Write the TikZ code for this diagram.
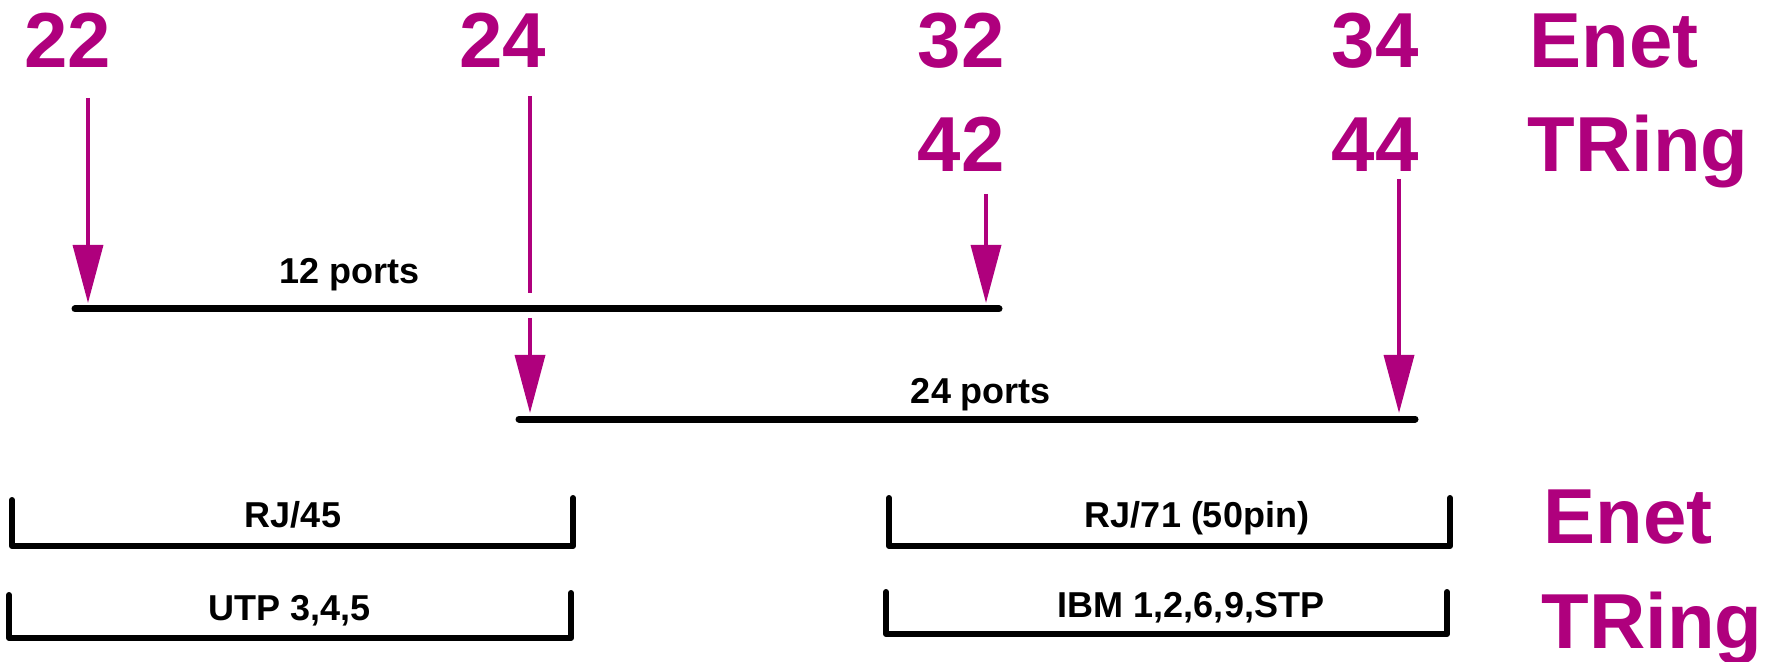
\documentclass[tikz,border=0pt]{standalone}
\usepackage{fontspec}
\setmainfont{Liberation Sans}
\usetikzlibrary{arrows.meta}
\definecolor{plum}{RGB}{175,0,125}
\begin{document}
\begin{tikzpicture}[x=0.5pt,y=-0.5pt,
  big/.style={font=\fontsize{39}{39}\selectfont\bfseries, text=plum, inner sep=0pt, anchor=base},
  bigw/.style={big, anchor=base west},
  small/.style={font=\fontsize{18}{18}\selectfont\bfseries, inner sep=0pt, anchor=base},
  arr/.style={draw=plum, line width=1.75pt, -{Triangle[width=15pt,length=29pt]}},
  bus/.style={line width=3.5pt, line cap=round},
  bracket/.style={line width=3pt, line cap=round, line join=round}]
\useasboundingbox (0,0) rectangle (1781,662);

% model numbers and network types
\node[big] (n22) at (68,68) {22};
\node[big] (n24) at (503,68) {24};
\node[big] (n32) at (961,68) {32};
\node[big] (n34) at (1375,68) {34};
\node[bigw] (enetA) at (1529,68) {Enet};
\node[big] (n42) at (961,172) {42};
\node[big] (n44) at (1375,172) {44};
\node[bigw] (tringA) at (1527,172) {TRing};

% port-count buses
\coordinate (b12l) at (75,309);
\coordinate (b12r) at (999,309);
\coordinate (b24l) at (519,419);
\coordinate (b24r) at (1415,419);
\draw[bus] (b12l) -- (b12r);
\draw[bus] (b24l) -- (b24r);
\node[small] (p12) at (350,284) {12 ports};
\node[small] (p24) at (981,403) {24 ports};

% arrows from models to buses
\coordinate (s22) at (88,98);   \coordinate (t22) at (88,303);
\coordinate (s24) at (530,96);  \coordinate (g24a) at (530,293);
\coordinate (g24b) at (530,318); \coordinate (t24) at (530,413);
\coordinate (s42) at (986,194); \coordinate (t42) at (986,303);
\coordinate (s44) at (1399,179); \coordinate (t44) at (1399,413);
\draw[arr] (s22) -- (t22);
\draw[arr] (s24) -- (g24a) (g24b) -- (t24);
\draw[arr] (s42) -- (t42);
\draw[arr] (s44) -- (t44);

% connector / cable brackets
\draw[bracket] (12,500) -- (12,546) -- (573,546) -- (573,498);
\draw[bracket] (9,595) -- (9,638) -- (571,638) -- (571,593);
\draw[bracket] (889,498) -- (889,546) -- (1450,546) -- (1450,498);
\draw[bracket] (886,592) -- (886,634) -- (1447,634) -- (1447,592);
\node[small] (rj45) at (293,527) {RJ/45};
\node[small] (utp) at (290,620) {UTP 3,4,5};
\node[small] (rj71) at (1197,527) {RJ/71 (50pin)};
\node[small] (ibm) at (1191,617) {IBM 1,2,6,9,STP};
\node[bigw] (enetB) at (1543,543) {Enet};
\node[bigw] (tringB) at (1541,648) {TRing};
\end{tikzpicture}
\end{document}
